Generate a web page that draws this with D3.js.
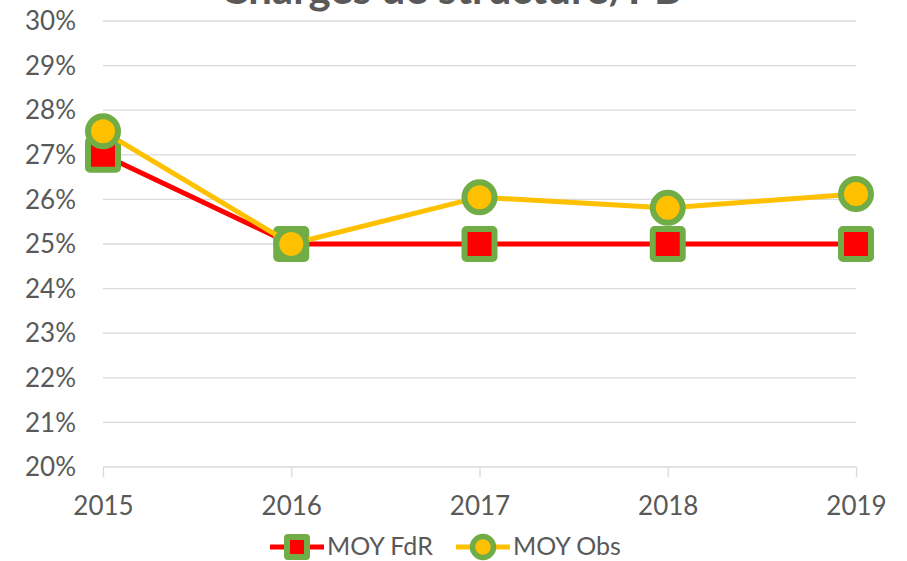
<!DOCTYPE html>
<head>
  <meta charset="utf-8">
  <script src="https://d3js.org/d3.v7.min.js"></script>
  <style>
    body { margin:0; background:#fff; }
    text { font-family: Lato, "Open Sans", sans-serif; fill:#595959; }
  </style>
</head>
<body>
<script>
  // chart data
  var years = ["2015", "2016", "2017", "2018", "2019"];
  var moyFdR = [0.270, 0.250, 0.250, 0.250, 0.250];
  var moyObs = [0.2753, 0.250, 0.2605, 0.2581, 0.2612];
  var yTicks = [0.20, 0.21, 0.22, 0.23, 0.24, 0.25, 0.26, 0.27, 0.28, 0.29, 0.30];
  var title = "Charges de structure/PB";

  var width = 907, height = 561;
  var svg = d3.select("body").append("svg")
    .attr("width", width)
    .attr("height", height);

  // x is a point scale: first and last category sit on the plot edges
  var x = d3.scalePoint()
    .domain(years)
    .range([103, 856]);

  var y = d3.scaleLinear()
    .domain([0.20, 0.30])
    .range([467, 21]);

  // title, clipped at the top like in the original
  svg.append("text")
    .attr("x", 451)
    .attr("y", 4)
    .attr("text-anchor", "middle")
    .attr("font-size", 42)
    .attr("font-weight", "bold")
    .text(title);

  // gridlines
  svg.append("g")
    .selectAll("line")
    .data(yTicks.slice(1))
    .enter().append("line")
    .attr("x1", 103).attr("x2", 856)
    .attr("y1", function(d) { return y(d); })
    .attr("y2", function(d) { return y(d); })
    .attr("stroke", "#d9d9d9")
    .attr("stroke-width", 1.3);

  // y labels
  svg.append("g")
    .selectAll("text")
    .data(yTicks)
    .enter().append("text")
    .attr("x", 76)
    .attr("y", function(d) { return y(d); })
    .attr("dy", "0.35em")
    .attr("text-anchor", "end")
    .attr("font-size", 26)
    .text(function(d) { return Math.round(d * 100) + "%"; });

  // x axis
  var xAxis = d3.axisBottom(x).tickSize(10).tickPadding(20);
  var gx = svg.append("g")
    .attr("transform", "translate(0,467)")
    .call(xAxis);
  gx.select(".domain").attr("stroke", "#d9d9d9").attr("stroke-width", 1.3)
    .attr("d", "M103,0H856");
  gx.selectAll(".tick line").attr("stroke", "#d9d9d9").attr("stroke-width", 1.3);
  gx.selectAll(".tick text")
    .attr("font-size", 26)
    .attr("fill", "#595959")
    .style("font-family", "Lato, 'Open Sans', sans-serif");

  var line = d3.line()
    .x(function(d, i) { return x(years[i]); })
    .y(function(d) { return y(d); });

  // FdR series
  svg.append("path")
    .datum(moyFdR)
    .attr("d", line)
    .attr("fill", "none")
    .attr("stroke", "#ff0000")
    .attr("stroke-width", 5);

  svg.append("g")
    .selectAll("rect")
    .data(moyFdR)
    .enter().append("rect")
    .attr("x", function(d, i) { return x(years[i]) - 15; })
    .attr("y", function(d) { return y(d) - 15; })
    .attr("width", 30).attr("height", 30)
    .attr("rx", 2)
    .attr("fill", "#ff0000")
    .attr("stroke", "#70ad47")
    .attr("stroke-width", 6);

  // Obs series
  svg.append("path")
    .datum(moyObs)
    .attr("d", line)
    .attr("fill", "none")
    .attr("stroke", "#ffc000")
    .attr("stroke-width", 5);

  svg.append("g")
    .selectAll("circle")
    .data(moyObs)
    .enter().append("circle")
    .attr("cx", function(d, i) { return x(years[i]); })
    .attr("cy", function(d) { return y(d); })
    .attr("r", 15)
    .attr("fill", "#ffc000")
    .attr("stroke", "#70ad47")
    .attr("stroke-width", 6);

  // legend
  var legend = svg.append("g");
  var lf = legend.append("g").attr("transform", "translate(270,547)");
  lf.append("line").attr("x1", 0).attr("x2", 54)
    .attr("stroke", "#ff0000").attr("stroke-width", 5);
  lf.append("rect").attr("x", 17).attr("y", -10).attr("width", 20).attr("height", 20)
    .attr("rx", 1)
    .attr("fill", "#ff0000").attr("stroke", "#70ad47").attr("stroke-width", 6);
  lf.append("text").attr("x", 57).attr("dy", "0.33em")
    .attr("font-size", 25).text("MOY FdR");

  var lo = legend.append("g").attr("transform", "translate(456,547)");
  lo.append("line").attr("x1", 0).attr("x2", 54)
    .attr("stroke", "#ffc000").attr("stroke-width", 5);
  lo.append("circle").attr("cx", 27).attr("r", 10.5)
    .attr("fill", "#ffc000").attr("stroke", "#70ad47").attr("stroke-width", 5.5);
  lo.append("text").attr("x", 57).attr("dy", "0.33em")
    .attr("font-size", 25).text("MOY Obs");
</script>
</body>
